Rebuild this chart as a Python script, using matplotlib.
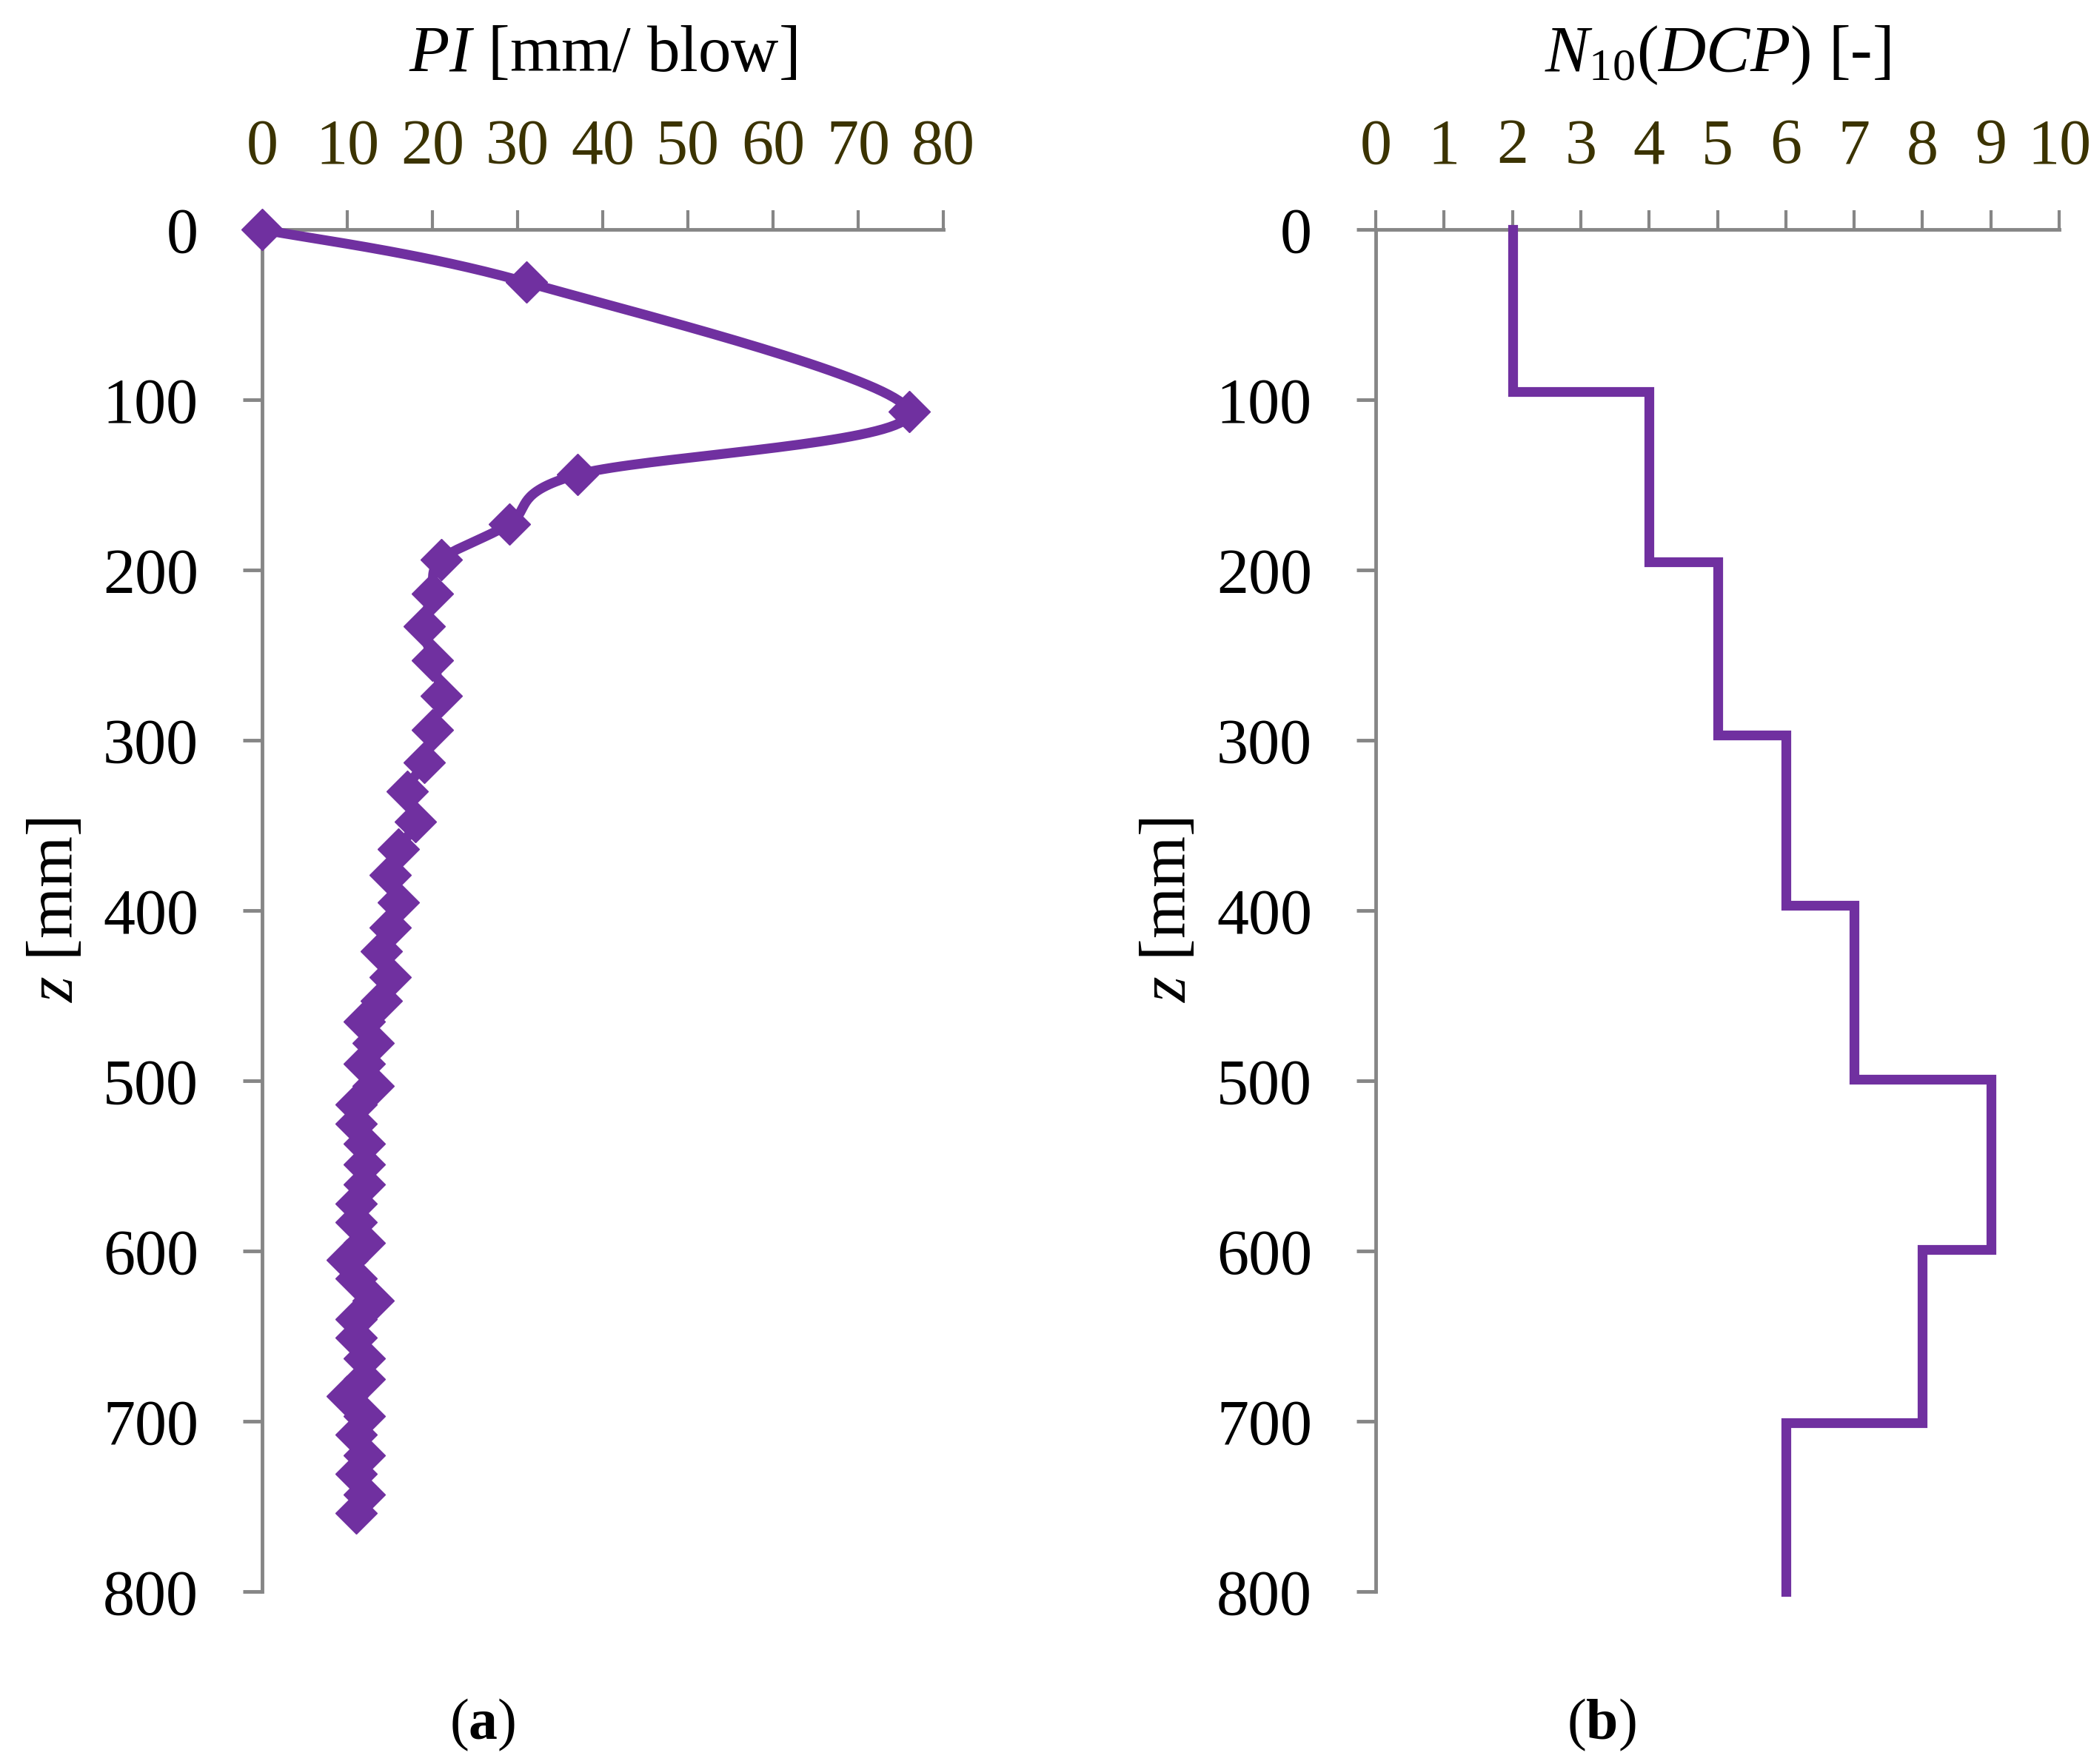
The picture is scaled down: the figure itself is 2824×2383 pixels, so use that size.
import numpy as np
import matplotlib
matplotlib.use('Agg')
import matplotlib.pyplot as plt

plt.rcParams['font.family'] = ['Liberation Serif', 'DejaVu Serif']
plt.rcParams['mathtext.fontset'] = 'custom'
plt.rcParams['mathtext.rm'] = 'Liberation Serif'
plt.rcParams['mathtext.it'] = 'Liberation Serif:italic'
plt.rcParams['mathtext.bf'] = 'Liberation Serif:bold'

# (a) penetration index per blow and depth of each reading
pi_values = [0, 31, 76, 37, 29, 21, 20, 19, 20, 21, 20, 19, 17, 18, 16, 15, 16, 15, 14, 15,
             14, 12, 13, 12, 13, 11, 11, 12, 12, 12, 11, 11, 12, 10, 11, 13, 11, 11, 12, 12,
             10, 12, 11, 12, 11, 12, 11]
pi_depth = [0, 31, 107, 144, 173, 194, 214, 233, 253, 274, 294, 313, 330, 348, 364, 379, 395,
            410, 424, 439, 453, 465, 478, 490, 503, 514, 525, 537, 549, 561, 572, 583, 595,
            605, 616, 629, 640, 651, 663, 675, 685, 697, 708, 720, 731, 743, 754]

# (b) blows per 100 mm layer
n10_values = [2, 4, 5, 6, 7, 9, 8, 6]
layer_top = [0, 95, 195, 297, 397, 499, 599, 701]
layer_bottom = [95, 195, 297, 397, 499, 599, 701, 800]

pi_ticks = [0, 10, 20, 30, 40, 50, 60, 70, 80]
n10_ticks = [0, 1, 2, 3, 4, 5, 6, 7, 8, 9, 10]
z_ticks = [0, 100, 200, 300, 400, 500, 600, 700, 800]

purple = '#7030A0'
grey = '#868686'
olive = '#3b3300'

W, H = 2824, 2383
fig = plt.figure(figsize=(W / 100, H / 100), dpi=100)
top, bottom = 310, 2150
ax1 = fig.add_axes([354 / W, 1 - bottom / H, (1274 - 354) / W, (bottom - top) / H])
ax2 = fig.add_axes([1858 / W, 1 - bottom / H, (2781 - 1858) / W, (bottom - top) / H])


def style_axes(ax, xticks, xlabel):
    ax.set_xlim(xticks[0], xticks[-1])
    ax.set_ylim(800, 0)
    ax.set_xticks(xticks)
    ax.set_yticks(z_ticks)
    ax.xaxis.tick_top()
    for side in ['right', 'bottom']:
        ax.spines[side].set_visible(False)
    for side in ['left', 'top']:
        ax.spines[side].set_color(grey)
        ax.spines[side].set_linewidth(3.5)
    ax.tick_params(axis='x', direction='out', length=19, width=3, color=grey,
                   pad=32, labelsize=62, labelcolor=olive)
    ax.tick_params(axis='y', direction='out', length=19, width=3.5, color=grey,
                   pad=43, labelsize=62, labelcolor='black')
    ax.xaxis.set_label_position('top')
    ax.set_xlabel(xlabel, fontsize=64)
    ax.xaxis.set_label_coords(0.5, 1.1163)
    ax.xaxis.label.set_va('baseline')
    ax.set_ylabel('$z$ [mm]', fontsize=64)
    ax.yaxis.set_label_coords(-0.302, 0.5)
    ax.yaxis.label.set_va('center')


style_axes(ax1, pi_ticks, '$PI$ [mm/ blow]')
style_axes(ax2, n10_ticks, '$N_{10}(DCP)$ [-]')


def smooth_curve(ax, x, y, n=40):
    # Excel-like smoothed line: cubic Bezier through the points, in screen space
    pts = ax.transData.transform(np.column_stack([x, y]))
    P = np.vstack([pts[0], pts, pts[-1]])
    t = np.linspace(0, 1, n)[:, None]
    segs = []
    for i in range(1, len(P) - 2):
        p0, p1, p2, p3 = P[i - 1], P[i], P[i + 1], P[i + 2]
        c1 = p1 + (p2 - p0) / 6
        c2 = p2 - (p3 - p1) / 6
        segs.append((1 - t) ** 3 * p1 + 3 * (1 - t) ** 2 * t * c1
                    + 3 * (1 - t) * t ** 2 * c2 + t ** 3 * p2)
    return ax.transData.inverted().transform(np.vstack(segs))


curve = smooth_curve(ax1, pi_values, pi_depth)
ax1.plot(curve[:, 0], curve[:, 1], color=purple, lw=9.5, clip_on=False,
         solid_capstyle='round', zorder=3)
ax1.plot(pi_values, pi_depth, linestyle='none', marker='D', markersize=29,
         color=purple, clip_on=False, zorder=4)

# step profile for N10
xs, ys = [], []
for n, z0, z1 in zip(n10_values, layer_top, layer_bottom):
    xs += [n, n]
    ys += [z0, z1]
ax2.plot(xs, ys, color=purple, lw=9.5, clip_on=False,
         solid_capstyle='projecting', solid_joinstyle='miter', zorder=3)

fig.text(652 / W, 1 - 2330 / H, r'($\mathbf{a}$)', ha='center', va='center', fontsize=56)
fig.text(2163 / W, 1 - 2330 / H, r'($\mathbf{b}$)', ha='center', va='center', fontsize=56)

fig.savefig('out.png', dpi=100, facecolor='white')
